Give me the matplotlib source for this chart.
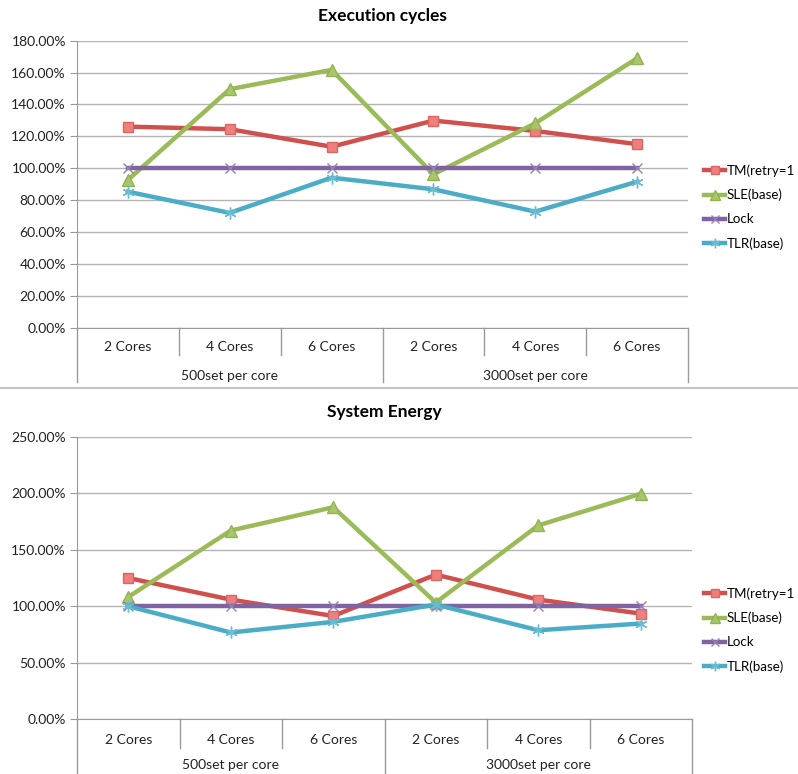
import numpy as np
import matplotlib
matplotlib.use("Agg")
import matplotlib.pyplot as plt
from matplotlib.lines import Line2D
from matplotlib.ticker import FuncFormatter

plt.rcParams['font.family'] = ['Lato', 'DejaVu Sans']

# categories (two-level axis)
cores = ["2 Cores", "4 Cores", "6 Cores", "2 Cores", "4 Cores", "6 Cores"]
groups = ["500set per core", "3000set per core"]

# Execution cycles (% of Lock)
cyc_tm = [126.1, 124.5, 113.5, 129.9, 123.4, 115.1]
cyc_sle = [92.7, 149.6, 161.7, 96.2, 128.2, 169.0]
cyc_lock = [100, 100, 100, 100, 100, 100]
cyc_tlr = [85.3, 72.0, 94.1, 86.8, 72.8, 91.6]

# System energy (% of Lock)
en_tm = [125.0, 105.9, 91.4, 128.0, 105.9, 93.5]
en_sle = [108.2, 167.0, 187.6, 103.3, 171.5, 199.5]
en_lock = [100, 100, 100, 100, 100, 100]
en_tlr = [100.0, 76.8, 86.2, 101.5, 78.8, 84.7]

labels = ["TM(retry=1", "SLE(base)", "Lock", "TLR(base)"]

W, H = 798, 774
fig = plt.figure(figsize=(W / 100, H / 100), dpi=100)

# series styles: line colour, marker, marker face, marker edge
styles = [
    dict(color="#D0504D", marker="s", mfc="#EE7F7C", mec="#D86663", ms=7.5, mew=1.0),
    dict(color="#9BBB59", marker="^", mfc="#A9C76A", mec="#93B350", ms=8.5, mew=1.0),
    dict(color="#8064A2", marker="x", mfc="#8064A2", mec="#9480B4", ms=7.5, mew=1.0),
    dict(color="#4BACC6", marker=(6, 2, 0), mfc="#4BACC6", mec="#6CBCD2", ms=8.5, mew=1.0),
]

GRID = "#B3B3B3"
AXC = "#9A9A9A"
FS = 10


def px_axes(left, top, right, bottom):
    return fig.add_axes([left / W, 1 - bottom / H, (right - left) / W, (bottom - top) / H])


def draw_panel(ax, series, ymax, ystep, title, axis_px, core_px, group_px,
               core_lab_px, group_lab_px, leg_y):
    x = np.arange(len(cores))
    for vals, lab, st in zip(series, labels, styles):
        ax.plot(x, vals, color=st["color"], lw=3.2, marker=st["marker"],
                ms=st["ms"], mfc=st["mfc"], mec=st["mec"], mew=st["mew"],
                label=lab, solid_joinstyle="round", zorder=3)

    ax.set_xlim(-0.5, len(cores) - 0.5)
    ax.set_ylim(0, ymax)
    ax.set_yticks(np.arange(0, ymax + 0.1, ystep))
    ax.yaxis.set_major_formatter(FuncFormatter(lambda v, p: f"{v:.2f}%"))
    ax.yaxis.grid(True, color=GRID, lw=1)
    ax.set_axisbelow(True)
    ax.set_xticks([])
    for s in ["top", "right"]:
        ax.spines[s].set_visible(False)
    ax.spines["left"].set_color(AXC)
    ax.spines["bottom"].set_color(AXC)
    ax.tick_params(axis="y", length=5, color=AXC, labelsize=FS, pad=3,
                   labelcolor="#222222")
    ax.set_title(title, fontsize=12.5, fontweight="bold", pad=14)

    # two-level category axis drawn below the plot
    tr = ax.get_xaxis_transform()
    f = lambda d: -d / axis_px
    for i in range(len(cores) + 1):
        xe = i - 0.5
        depth = group_px if i % 3 == 0 else core_px
        ax.add_line(Line2D([xe, xe], [0, f(depth)], transform=tr, color=AXC,
                           lw=1, clip_on=False))
    for i, c in enumerate(cores):
        ax.text(i, f(core_lab_px), c, transform=tr, ha="center", va="center",
                fontsize=FS, color="#222222")
    for g, name in enumerate(groups):
        ax.text(g * 3 + 1, f(group_lab_px), name, transform=tr, ha="center",
                va="center", fontsize=FS, color="#222222")

    ax.legend(loc="center left", bbox_to_anchor=(704 / W, 1 - leg_y / H),
              bbox_transform=fig.transFigure, frameon=False, fontsize=9.6,
              handlelength=1.6, handletextpad=0.1, labelspacing=0.9,
              markerscale=0.8, borderaxespad=0, borderpad=0)


ax1 = px_axes(77, 40.7, 688, 327.7)
draw_panel(ax1, [cyc_tm, cyc_sle, cyc_lock, cyc_tlr], 180, 20, "Execution cycles",
           287.0, 27, 54, 19, 48, 207)

ax2 = px_axes(77, 436.7, 692, 719.3)
draw_panel(ax2, [en_tm, en_sle, en_lock, en_tlr], 250, 50, "System Energy",
           282.6, 29, 56, 21, 46, 630)

# divider between the two charts
fig.add_artist(Line2D([0, 1], [1 - 387.5 / H, 1 - 387.5 / H],
                      transform=fig.transFigure, color="#C4C4C4", lw=1.5))

fig.savefig("out.png", dpi=100)
